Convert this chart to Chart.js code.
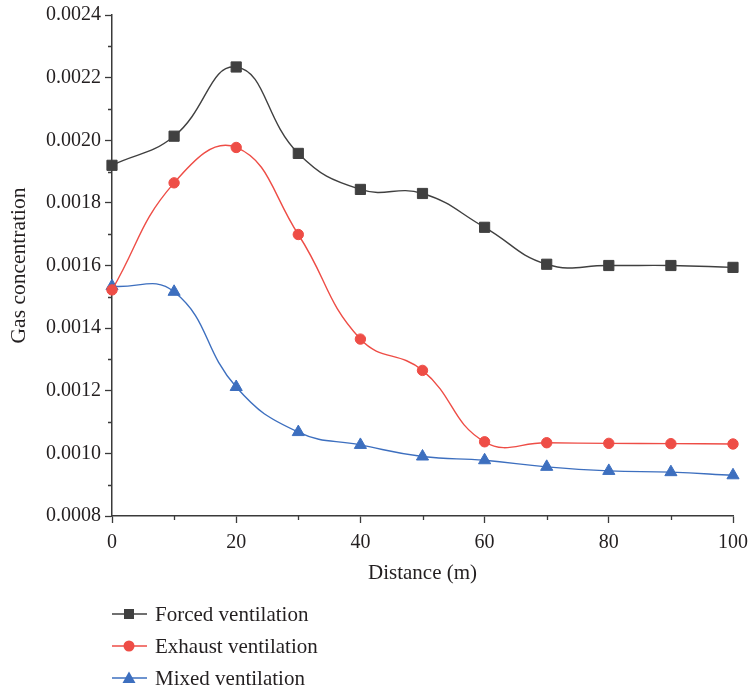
<!DOCTYPE html>
<html>
<head>
<meta charset="utf-8">
<script src="https://cdn.jsdelivr.net/npm/chart.js@4/dist/chart.umd.min.js"></script>
<style>
  html, body { margin: 0; padding: 0; background: #fff; }
  #wrap { position: relative; width: 749px; height: 686px; }
  #c { position: absolute; left: 0; top: 0; }
  #legend { position: absolute; left: 112px; top: 600px; font-family: "Liberation Serif", "Times New Roman", serif; font-size: 21px; color: #231f20; }
  .item { position: absolute; left: 0; height: 28px; white-space: nowrap; display: flex; align-items: center; }
  .item svg { margin-right: 7px; }
</style>
</head>
<body>
<div id="wrap">
  <canvas id="c" width="749" height="686"></canvas>
  <div id="legend"></div>
</div>
<script>
// ---- data ----
const distance = [0, 10, 20, 30, 40, 50, 60, 70, 80, 90, 100];
const forced  = [0.001920, 0.002013, 0.002234, 0.001958, 0.001843, 0.001830, 0.001722, 0.001604, 0.001600, 0.001600, 0.001594];
const exhaust = [0.001522, 0.001864, 0.001977, 0.001699, 0.001365, 0.001265, 0.001037, 0.001034, 0.001032, 0.001031, 0.001030];
const mixed   = [0.001534, 0.001516, 0.001212, 0.001068, 0.001027, 0.000990, 0.000978, 0.000957, 0.000944, 0.000940, 0.000930];
const seriesNames = ["Forced ventilation", "Exhaust ventilation", "Mixed ventilation"];
const xTitle = "Distance (m)";
const yTitle = "Gas concentration";
const yTicks = [0.0008, 0.0010, 0.0012, 0.0014, 0.0016, 0.0018, 0.0020, 0.0022, 0.0024];
const xTicks = [0, 20, 40, 60, 80, 100];
const yMinor = [0.0009, 0.0011, 0.0013, 0.0015, 0.0017, 0.0019, 0.0021, 0.0023];
const xMinor = [10, 30, 50, 70, 90];

const colors = ["#404040", "#ee4d46", "#3d6fbf"];
const styles = ["rect", "circle", "triangle"];
const radii = [7.2, 5.2, 7.0];
const values = [forced, exhaust, mixed];

const FONT = "'Liberation Serif', 'Times New Roman', serif";
const TEXT = "#231f20";
const AXIS = "#3a3a3a";

const datasets = values.map((arr, i) => ({
  label: seriesNames[i],
  data: distance.map((d, j) => ({ x: d, y: arr[j] })),
  borderColor: colors[i],
  backgroundColor: colors[i],
  pointBackgroundColor: colors[i],
  pointBorderColor: colors[i],
  pointBorderWidth: 1,
  pointStyle: styles[i],
  pointRadius: radii[i],
  borderWidth: 1.4,
  tension: 0.45,
  fill: false,
  clip: false
}));

const minorTicks = {
  id: 'minorTicks',
  afterDraw(chart) {
    const ctx = chart.ctx;
    const xs = chart.scales.x, ys = chart.scales.y;
    const area = chart.chartArea;
    ctx.save();
    ctx.strokeStyle = AXIS;
    ctx.lineWidth = 1.3;
    ctx.beginPath();
    xMinor.forEach(v => {
      const px = Math.round(xs.getPixelForValue(v)) + 0.5;
      ctx.moveTo(px, area.bottom);
      ctx.lineTo(px, area.bottom + 4);
    });
    yMinor.forEach(v => {
      const py = Math.round(ys.getPixelForValue(v)) + 0.5;
      ctx.moveTo(area.left, py);
      ctx.lineTo(area.left - 4, py);
    });
    ctx.stroke();
    ctx.restore();
  }
};

new Chart(document.getElementById('c'), {
  type: 'line',
  data: { datasets },
  options: {
    responsive: false,
    animation: false,
    devicePixelRatio: 1,
    layout: { padding: { left: 0, right: 16, top: 15, bottom: 100 } },
    plugins: { legend: { display: false }, tooltip: { enabled: false } },
    scales: {
      x: {
        type: 'linear',
        min: 0, max: 100,
        afterBuildTicks: s => { s.ticks = xTicks.map(v => ({ value: v })); },
        afterFit: s => { s.height = 70; s.paddingRight = 0; s.paddingLeft = 0; },
        ticks: { font: { family: FONT, size: 20 }, color: TEXT, padding: 8, maxRotation: 0 },
        grid: { display: true, drawOnChartArea: false, drawTicks: true, tickLength: 7, tickColor: AXIS, tickWidth: 1.3 },
        border: { display: true, color: AXIS, width: 1.5 },
        title: { display: true, text: xTitle, font: { family: FONT, size: 21 }, color: TEXT, padding: { top: 2, bottom: 0 } }
      },
      y: {
        type: 'linear',
        min: 0.0008, max: 0.0024,
        afterBuildTicks: s => { s.ticks = yTicks.map(v => ({ value: v })); },
        afterFit: s => { s.width = 112; s.paddingTop = 0; s.paddingBottom = 0; },
        ticks: { font: { family: FONT, size: 20 }, color: TEXT, padding: 4,
                 callback: v => Number(v).toFixed(4) },
        grid: { display: true, drawOnChartArea: false, drawTicks: true, tickLength: 7, tickColor: AXIS, tickWidth: 1.3 },
        border: { display: true, color: AXIS, width: 1.5 },
        title: { display: true, text: yTitle, font: { family: FONT, size: 21.5 }, color: TEXT, padding: { top: 6, bottom: 6 } }
      }
    }
  },
  plugins: [minorTicks]
});

// HTML legend built from the dataset definitions
const legend = document.getElementById('legend');
seriesNames.forEach((name, i) => {
  const div = document.createElement('div');
  div.className = 'item';
  div.style.top = (i * 32) + 'px';
  let marker;
  if (styles[i] === 'rect') marker = `<rect x="12" y="9" width="10" height="10" fill="${colors[i]}"/>`;
  else if (styles[i] === 'circle') marker = `<circle cx="17" cy="14" r="5.5" fill="${colors[i]}"/>`;
  else marker = `<polygon points="17,7.5 23.5,19 10.5,19" fill="${colors[i]}"/>`;
  div.innerHTML = `<svg width="36" height="28" viewBox="0 0 36 28"><line x1="0" y1="14" x2="35" y2="14" stroke="${colors[i]}" stroke-width="1.5"/>${marker}</svg><span>${name}</span>`;
  legend.appendChild(div);
});
</script>
</body>
</html>
